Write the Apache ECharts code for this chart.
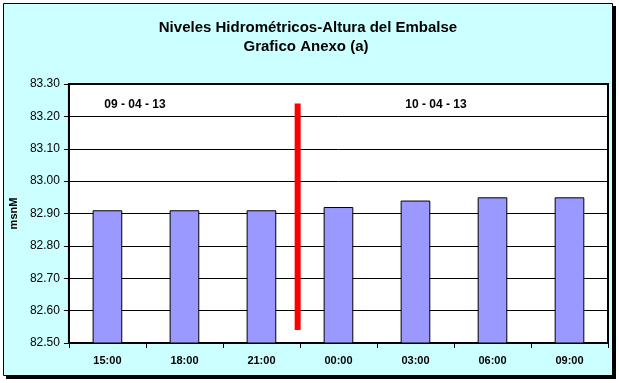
<!DOCTYPE html>
<html><head><meta charset="utf-8">
<script src="https://cdn.jsdelivr.net/npm/echarts@6/dist/echarts.min.js"></script>
<style>html,body{margin:0;padding:0;background:#fff}#c{width:619px;height:383px}</style>
</head><body><div id="c"></div>
<script>
const categories = ['15:00','18:00','21:00','00:00','03:00','06:00','09:00'];
const levels = [82.91, 82.91, 82.91, 82.92, 82.94, 82.95, 82.95];
const dividerX = [2.97, 2.97];
const dividerY = [82.54, 83.24];
const dateLabels = ['09 - 04 - 13', '10 - 04 - 13'];
const titleText = 'Niveles Hidrométricos-Altura del Embalse';
const subtitleText = 'Grafico Anexo (a)';
const yAxisName = 'msnM';

const chart = echarts.init(document.getElementById('c'));
const font = 'Liberation Sans, Arial, sans-serif';
chart.setOption({
  backgroundColor: '#ffffff',
  animation: false,
  graphic: [
    {type:'rect', z:-10, shape:{x:6, y:6, width:610, height:373}, style:{fill:'#000'}},
    {type:'rect', z:-9, shape:{x:3.5, y:3.5, width:609, height:372}, style:{fill:'#CCFFFF', stroke:'#000', lineWidth:1}},
    {type:'text', z:10, x:135, y:105, style:{text:dateLabels[0], font:'bold 12px "Liberation Sans Narrow", Arial Narrow, Liberation Sans, sans-serif', fill:'#000', align:'center', verticalAlign:'middle'}},
    {type:'text', z:10, x:436, y:105, style:{text:dateLabels[1], font:'bold 12px "Liberation Sans Narrow", Arial Narrow, Liberation Sans, sans-serif', fill:'#000', align:'center', verticalAlign:'middle'}}
  ],
  title: [
    {text: titleText, left: 303, top: 15, textAlign: 'center', textStyle:{fontFamily:font, fontWeight:'bold', fontSize:15, color:'#000'}},
    {text: subtitleText, left: 301, top: 34, textAlign: 'center', textStyle:{fontFamily:font, fontWeight:'bold', fontSize:15, color:'#000'}}
  ],
  grid: {left: 66, right: 11, top: 84, bottom: 40, show: true, backgroundColor:'#fff', borderColor:'#000', borderWidth:2},
  xAxis: [
    {type:'category', data: categories, boundaryGap: true,
     axisLine:{lineStyle:{color:'#000', width:2}},
     axisTick:{show:true, length:5, lineStyle:{color:'#000', width:1}},
     axisLabel:{fontFamily:font, fontWeight:'bold', fontSize:11, color:'#000', margin:12},
     splitLine:{show:false}},
    {type:'value', min:0, max:7, show:false}
  ],
  yAxis: {
    type:'value', min:82.5, max:83.3, interval:0.1,
    name: yAxisName, nameLocation:'middle', nameGap:48, nameRotate:90,
    nameTextStyle:{fontFamily:font, fontWeight:'bold', fontSize:11, color:'#000'},
    axisLine:{show:true, lineStyle:{color:'#000', width:2}},
    axisTick:{show:true, length:5, lineStyle:{color:'#000', width:1}},
    axisLabel:{fontFamily:font, fontSize:12, color:'#000', margin:9, formatter: v => v.toFixed(2)},
    splitLine:{show:true, lineStyle:{color:'#000', width:1}}
  },
  series: [
    {type:'bar', data: levels, barWidth:'38.5%', xAxisIndex:0,
     itemStyle:{color:'#9999FF', borderColor:'#000', borderWidth:1}},
    {type:'line', xAxisIndex:1, data: dividerX.map((x,i)=>[x, dividerY[i]]),
     symbol:'none', lineStyle:{color:'#FF0000', width:6, cap:'butt'}, z:5}
  ]
});
</script></body></html>
